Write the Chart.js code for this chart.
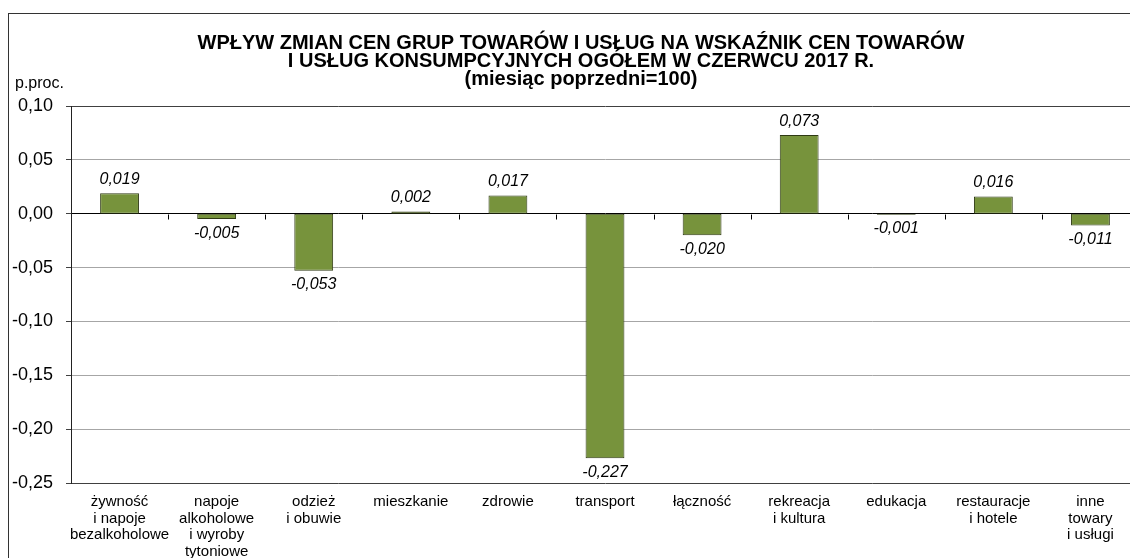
<!DOCTYPE html>
<html>
<head>
<meta charset="utf-8">
<script src="https://cdn.jsdelivr.net/npm/chart.js@4/dist/chart.umd.min.js"></script>
<style>
html,body{margin:0;padding:0;overflow:hidden;background:#fff;}
#wrap{position:relative;width:1145px;height:575px;}
</style>
</head>
<body>
<div id="wrap"><canvas id="c"></canvas></div>
<script>
const categories = [
  ["żywność","i napoje","bezalkoholowe"],
  ["napoje","alkoholowe","i wyroby","tytoniowe"],
  ["odzież","i obuwie"],
  ["mieszkanie"],
  ["zdrowie"],
  ["transport"],
  ["łączność"],
  ["rekreacja","i kultura"],
  ["edukacja"],
  ["restauracje","i hotele"],
  ["inne","towary","i usługi"]
];
const values = [0.019, -0.005, -0.053, 0.002, 0.017, -0.227, -0.020, 0.073, -0.001, 0.016, -0.011];
const titleLines = [
  "WPŁYW ZMIAN CEN GRUP TOWARÓW I USŁUG NA WSKAŹNIK CEN TOWARÓW",
  "I USŁUG KONSUMPCYJNYCH OGÓŁEM W CZERWCU 2017 R.",
  "(miesiąc poprzedni=100)"
];
const unitLabel = "p.proc.";
const yMin = -0.25, yMax = 0.10, yStep = 0.05;

const FONT = '"Liberation Sans", Arial, sans-serif';
const fmt = (v, d) => (Math.abs(v) < 1e-9 ? 0 : v).toFixed(d).replace('.', ',');

const decor = {
  id: 'decor',
  beforeDraw(chart) {
    const ctx = chart.ctx;
    ctx.save();
    ctx.strokeStyle = '#333';
    ctx.lineWidth = 1;
    ctx.strokeRect(8.5, 13.5, 1160, 620);
    ctx.restore();
  },
  afterDraw(chart) {
    const ctx = chart.ctx;
    const x = chart.scales.x, y = chart.scales.y;
    ctx.save();
    // title
    ctx.fillStyle = '#000';
    ctx.textAlign = 'center';
    ctx.textBaseline = 'alphabetic';
    ctx.font = 'bold 20px ' + FONT;
    const baselines = [49, 67, 85];
    titleLines.forEach((t, i) => ctx.fillText(t, 581, baselines[i]));
    // unit
    ctx.font = '16px ' + FONT;
    ctx.textAlign = 'left';
    ctx.fillText(unitLabel, 15, 88);
    // category tick marks on zero line
    const y0 = Math.round(y.getPixelForValue(0)) + 0.5;
    const cw = x.getPixelForValue(1) - x.getPixelForValue(0);
    ctx.strokeStyle = '#000';
    ctx.lineWidth = 1;
    ctx.beginPath();
    for (let i = 1; i <= categories.length; i++) {
      const bx = Math.round(x.getPixelForValue(0) + (i - 0.5) * cw) + 0.5;
      ctx.moveTo(bx, y0);
      ctx.lineTo(bx, y0 + 5);
    }
    ctx.stroke();
    // value labels
    const meta = chart.getDatasetMeta(0);
    ctx.font = 'italic 16px ' + FONT;
    ctx.textAlign = 'center';
    ctx.textBaseline = 'middle';
    meta.data.forEach((bar, i) => {
      const v = values[i];
      const ty = v >= 0 ? Math.min(bar.y, bar.base) - 14 : Math.max(bar.y, bar.base) + 14;
      ctx.fillText(fmt(v, 3), bar.x, ty);
    });
    ctx.restore();
  }
};

new Chart(document.getElementById('c'), {
  type: 'bar',
  data: {
    labels: categories,
    datasets: [{
      data: values,
      backgroundColor: '#77933C',
      borderColor: '#2f3a14',
      borderWidth: 1,
      borderSkipped: false,
      barPercentage: 0.4,
      categoryPercentage: 1.0
    }]
  },
  options: {
    responsive: true,
    maintainAspectRatio: false,
    animation: false,
    devicePixelRatio: 1,
    layout: { padding: { top: 106, left: 0, right: 6, bottom: 0 } },
    plugins: { legend: { display: false }, title: { display: false }, tooltip: { enabled: false } },
    scales: {
      x: {
        grid: { display: false, drawTicks: false },
        border: { display: false },
        ticks: {
          color: '#000',
          font: { family: FONT, size: 15, lineHeight: 1.1 },
          padding: 11,
          maxRotation: 0,
          autoSkip: false
        },
        afterFit(s) { s.height = 575 - 483; }
      },
      y: {
        min: yMin, max: yMax,
        grid: {
          color: c => {
            const v = c.tick ? c.tick.value : 0;
            if (Math.abs(v) < 1e-9) return '#000';
            if (Math.abs(v - yMax) < 1e-9 || Math.abs(v - yMin) < 1e-9) return '#404040';
            return '#a6a6a6';
          },
          tickColor: '#404040',
          tickLength: 5,
          lineWidth: 1
        },
        border: { display: true, color: '#222', width: 1 },
        ticks: {
          stepSize: yStep,
          color: '#000',
          padding: 13,
          font: { family: FONT, size: 18 },
          callback: v => fmt(v, 2)
        },
        afterFit(s) { s.width = 71; }
      }
    }
  },
  plugins: [decor]
});
</script>
</body>
</html>
